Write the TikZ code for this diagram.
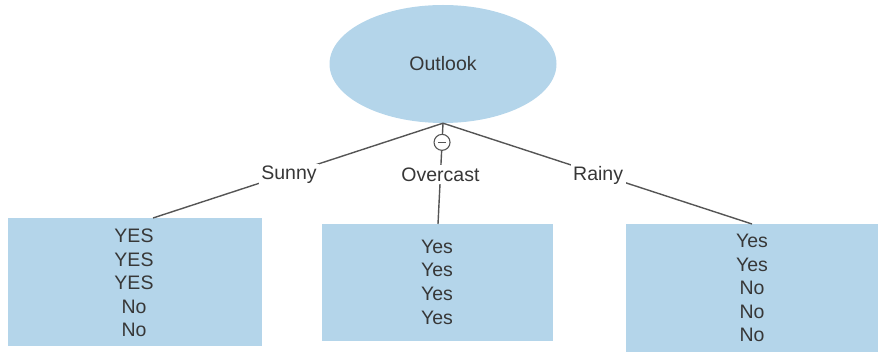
\documentclass[tikz,border=0pt]{standalone}
\usepackage{fontspec}
\setmainfont{Liberation Sans}
\usetikzlibrary{shapes.geometric}
\definecolor{leafblue}{RGB}{180,213,234}
\definecolor{ink}{RGB}{55,55,55}
\definecolor{wire}{RGB}{85,85,85}
\tikzset{
  rootnode/.style={ellipse, fill=leafblue, minimum width=227pt, minimum height=118pt, inner sep=0pt,
    text=ink, font=\fontsize{19.5}{22}\selectfont},
  leafbox/.style={rectangle, fill=leafblue, inner sep=0pt, text=ink, align=center,
    font=\fontsize{19.5}{23.6}\selectfont},
  branch/.style={draw=wire, line width=1.4pt},
  edgelabel/.style={fill=white, inner sep=2.5pt, text=ink, font=\fontsize{19.5}{22}\selectfont},
  collapse/.style={circle, draw=wire, fill=white, line width=1.1pt, minimum size=16pt, inner sep=0pt}
}
\begin{document}
\begin{tikzpicture}[x=1pt, y=-1pt]
  \useasboundingbox (0,0) rectangle (878,352);

  % root
  \node[rootnode] (root) at (443,64) {Outlook};

  % leaf boxes
  \node[leafbox, minimum width=254pt, minimum height=128pt] (lbox) at (135,282) {};
  \node[leafbox, minimum width=231pt, minimum height=117pt] (mbox) at (437.5,282.5) {};
  \node[leafbox, minimum width=252pt, minimum height=128pt] (rbox) at (752,288) {};

  % leaf contents
  \node[leafbox, fill=none] (ltext) at (134,283) {YES\\YES\\YES\\No\\No};
  \node[leafbox, fill=none] (mtext) at (437,282) {Yes\\Yes\\Yes\\Yes};
  \node[leafbox, fill=none] (rtext) at (752,288) {Yes\\Yes\\No\\No\\No};

  % attachment points on the box tops
  \coordinate (lin) at (153,218);
  \coordinate (min) at (438,224);
  \coordinate (rin) at (752,224);

  % branches, labels nudged slightly down onto the line
  \draw[branch] (root.south) -- node[edgelabel, pos=0.531, yshift=-1.5pt] (sunny) {Sunny} (lin);
  \draw[branch] (root.south) -- node[edgelabel, pos=0.502, yshift=-1.5pt] (rainy) {Rainy} (rin);
  \draw[branch] (root.south) -- node[collapse, pos=0.19] (toggle) {} node[edgelabel, pos=0.51] (overcast) {Overcast} (min);
  \draw[wire, line width=1.2pt] ([xshift=-4pt]toggle.center) -- ([xshift=4pt]toggle.center);
\end{tikzpicture}
\end{document}
